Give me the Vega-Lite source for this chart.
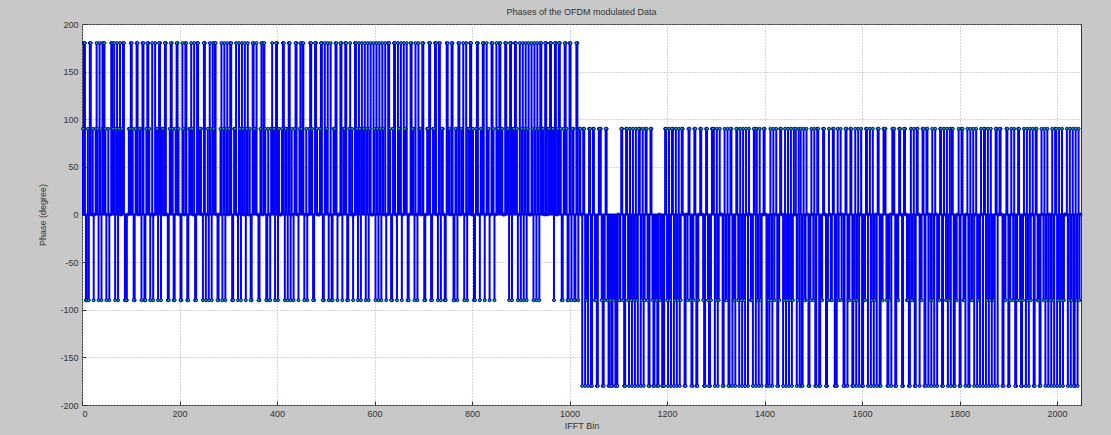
{
"$schema": "https://vega.github.io/schema/vega-lite/v6.json",
"width": 999, "height": 381,
"autosize": {"type": "none"},
"padding": {"left": 82, "top": 24, "right": 30, "bottom": 30},
"background": "#c8c8c8",
"title": {"text": "Phases of the OFDM modulated Data", "fontSize": 9, "fontWeight": "normal", "font": "Liberation Sans", "color": "#333333", "offset": 3},
"config": {
  "view": {"fill": "#ffffff", "stroke": "#333333", "strokeWidth": 1},
  "axis": {"labelFont": "Liberation Sans", "labelFontSize": 9, "labelColor": "#333333", "titleFont": "Liberation Sans", "titleFontSize": 9, "titleFontWeight": "normal", "titleColor": "#333333", "gridColor": "#a8a8a8", "gridDash": [1, 2], "gridOpacity": 1, "domain": false, "tickColor": "#333333", "tickSize": -4}
},
"data": {"values": [
{"bin":4,"phase":180},{"bin":8,"phase":-90},{"bin":12,"phase":90},{"bin":16,"phase":180},{"bin":20,"phase":0},{"bin":24,"phase":-90},{"bin":28,"phase":90},{"bin":32,"phase":90},{"bin":36,"phase":180},{"bin":40,"phase":-90},{"bin":44,"phase":180},{"bin":48,"phase":90},{"bin":52,"phase":0},{"bin":56,"phase":-90},{"bin":60,"phase":180},{"bin":64,"phase":90},
{"bin":68,"phase":-90},{"bin":72,"phase":180},{"bin":76,"phase":90},{"bin":80,"phase":0},{"bin":84,"phase":180},{"bin":88,"phase":-90},{"bin":92,"phase":-90},{"bin":96,"phase":90},{"bin":100,"phase":180},{"bin":104,"phase":90},{"bin":108,"phase":-90},{"bin":112,"phase":180},{"bin":116,"phase":0},{"bin":120,"phase":90},{"bin":124,"phase":180},{"bin":128,"phase":-90},
{"bin":132,"phase":90},{"bin":136,"phase":180},{"bin":140,"phase":-90},{"bin":144,"phase":180},{"bin":148,"phase":0},{"bin":152,"phase":90},{"bin":156,"phase":-90},{"bin":160,"phase":180},{"bin":164,"phase":90},{"bin":168,"phase":0},{"bin":172,"phase":180},{"bin":176,"phase":-90},{"bin":180,"phase":90},{"bin":184,"phase":180},{"bin":188,"phase":-90},{"bin":192,"phase":90},
{"bin":196,"phase":180},{"bin":200,"phase":0},{"bin":204,"phase":-90},{"bin":208,"phase":90},{"bin":212,"phase":180},{"bin":216,"phase":-90},{"bin":220,"phase":90},{"bin":224,"phase":180},{"bin":228,"phase":0},{"bin":232,"phase":-90},{"bin":236,"phase":180},{"bin":240,"phase":90},{"bin":244,"phase":90},{"bin":248,"phase":-90},{"bin":252,"phase":180},{"bin":256,"phase":0},
{"bin":260,"phase":-90},{"bin":264,"phase":90},{"bin":268,"phase":180},{"bin":272,"phase":180},{"bin":276,"phase":0},{"bin":280,"phase":-90},{"bin":284,"phase":90},{"bin":288,"phase":-90},{"bin":292,"phase":180},{"bin":296,"phase":90},{"bin":300,"phase":0},{"bin":304,"phase":180},{"bin":308,"phase":-90},{"bin":312,"phase":90},{"bin":316,"phase":180},{"bin":320,"phase":-90},
{"bin":324,"phase":90},{"bin":328,"phase":180},{"bin":332,"phase":0},{"bin":336,"phase":-90},{"bin":340,"phase":180},{"bin":344,"phase":90},{"bin":348,"phase":-90},{"bin":352,"phase":180},{"bin":356,"phase":90},{"bin":360,"phase":0},{"bin":364,"phase":-90},{"bin":368,"phase":180},{"bin":372,"phase":180},{"bin":376,"phase":90},{"bin":380,"phase":-90},{"bin":384,"phase":0},
{"bin":388,"phase":90},{"bin":392,"phase":90},{"bin":396,"phase":-90},{"bin":400,"phase":180},{"bin":404,"phase":90},{"bin":408,"phase":0},{"bin":412,"phase":180},{"bin":416,"phase":-90},{"bin":420,"phase":90},{"bin":424,"phase":180},{"bin":428,"phase":-90},{"bin":432,"phase":0},{"bin":436,"phase":90},{"bin":440,"phase":180},{"bin":444,"phase":-90},{"bin":448,"phase":180},
{"bin":452,"phase":180},{"bin":456,"phase":-90},{"bin":460,"phase":90},{"bin":464,"phase":0},{"bin":468,"phase":180},{"bin":472,"phase":90},{"bin":476,"phase":-90},{"bin":480,"phase":180},{"bin":484,"phase":0},{"bin":488,"phase":90},{"bin":492,"phase":180},{"bin":496,"phase":-90},{"bin":500,"phase":90},{"bin":504,"phase":180},{"bin":508,"phase":0},{"bin":512,"phase":-90},
{"bin":516,"phase":90},{"bin":520,"phase":180},{"bin":524,"phase":-90},{"bin":528,"phase":0},{"bin":532,"phase":180},{"bin":536,"phase":90},{"bin":540,"phase":180},{"bin":544,"phase":-90},{"bin":548,"phase":90},{"bin":552,"phase":0},{"bin":556,"phase":-90},{"bin":560,"phase":180},{"bin":564,"phase":90},{"bin":568,"phase":180},{"bin":572,"phase":-90},{"bin":576,"phase":90},
{"bin":580,"phase":180},{"bin":584,"phase":90},{"bin":588,"phase":-90},{"bin":592,"phase":180},{"bin":596,"phase":0},{"bin":600,"phase":90},{"bin":604,"phase":180},{"bin":608,"phase":-90},{"bin":612,"phase":90},{"bin":616,"phase":180},{"bin":620,"phase":0},{"bin":624,"phase":-90},{"bin":628,"phase":180},{"bin":632,"phase":90},{"bin":636,"phase":-90},{"bin":640,"phase":180},
{"bin":644,"phase":0},{"bin":648,"phase":180},{"bin":652,"phase":90},{"bin":656,"phase":-90},{"bin":660,"phase":180},{"bin":664,"phase":90},{"bin":668,"phase":-90},{"bin":672,"phase":0},{"bin":676,"phase":180},{"bin":680,"phase":90},{"bin":684,"phase":180},{"bin":688,"phase":-90},{"bin":692,"phase":90},{"bin":696,"phase":0},{"bin":700,"phase":180},{"bin":704,"phase":-90},
{"bin":708,"phase":90},{"bin":712,"phase":180},{"bin":716,"phase":-90},{"bin":720,"phase":90},{"bin":724,"phase":180},{"bin":728,"phase":0},{"bin":732,"phase":180},{"bin":736,"phase":-90},{"bin":740,"phase":90},{"bin":744,"phase":-90},{"bin":748,"phase":180},{"bin":752,"phase":90},{"bin":756,"phase":0},{"bin":760,"phase":180},{"bin":764,"phase":-90},{"bin":768,"phase":90},
{"bin":772,"phase":180},{"bin":776,"phase":0},{"bin":780,"phase":90},{"bin":784,"phase":-90},{"bin":788,"phase":180},{"bin":792,"phase":90},{"bin":796,"phase":180},{"bin":800,"phase":0},{"bin":804,"phase":-90},{"bin":808,"phase":90},{"bin":812,"phase":180},{"bin":816,"phase":-90},{"bin":820,"phase":90},{"bin":824,"phase":180},{"bin":828,"phase":0},{"bin":832,"phase":90},
{"bin":836,"phase":-90},{"bin":840,"phase":180},{"bin":844,"phase":90},{"bin":848,"phase":0},{"bin":852,"phase":90},{"bin":856,"phase":180},{"bin":860,"phase":90},{"bin":864,"phase":0},{"bin":868,"phase":180},{"bin":872,"phase":90},{"bin":876,"phase":-90},{"bin":880,"phase":180},{"bin":884,"phase":90},{"bin":888,"phase":180},{"bin":892,"phase":90},{"bin":896,"phase":0},
{"bin":900,"phase":-90},{"bin":904,"phase":180},{"bin":908,"phase":90},{"bin":912,"phase":-90},{"bin":916,"phase":180},{"bin":920,"phase":0},{"bin":924,"phase":90},{"bin":928,"phase":180},{"bin":932,"phase":-90},{"bin":936,"phase":90},{"bin":940,"phase":180},{"bin":944,"phase":90},{"bin":948,"phase":0},{"bin":952,"phase":180},{"bin":956,"phase":90},{"bin":960,"phase":180},
{"bin":964,"phase":90},{"bin":968,"phase":-90},{"bin":972,"phase":180},{"bin":976,"phase":90},{"bin":980,"phase":180},{"bin":984,"phase":-90},{"bin":988,"phase":90},{"bin":992,"phase":180},{"bin":996,"phase":-90},{"bin":1000,"phase":180},{"bin":1004,"phase":-90},{"bin":1008,"phase":90},{"bin":1012,"phase":-90},{"bin":1016,"phase":180},{"bin":1020,"phase":90},{"bin":1024,"phase":0},
{"bin":1028,"phase":90},{"bin":1032,"phase":-180},{"bin":1036,"phase":-90},{"bin":1040,"phase":90},{"bin":1044,"phase":-180},{"bin":1048,"phase":90},{"bin":1052,"phase":-90},{"bin":1056,"phase":-180},{"bin":1060,"phase":90},{"bin":1064,"phase":90},{"bin":1068,"phase":-180},{"bin":1072,"phase":-90},{"bin":1076,"phase":90},{"bin":1080,"phase":-180},{"bin":1084,"phase":-90},{"bin":1088,"phase":-180},
{"bin":1092,"phase":-90},{"bin":1096,"phase":-180},{"bin":1100,"phase":0},{"bin":1104,"phase":-90},{"bin":1108,"phase":90},{"bin":1112,"phase":-180},{"bin":1116,"phase":90},{"bin":1120,"phase":-90},{"bin":1124,"phase":90},{"bin":1128,"phase":-180},{"bin":1132,"phase":-90},{"bin":1136,"phase":90},{"bin":1140,"phase":-180},{"bin":1144,"phase":90},{"bin":1148,"phase":-90},{"bin":1152,"phase":-180},
{"bin":1156,"phase":90},{"bin":1160,"phase":-90},{"bin":1164,"phase":-180},{"bin":1168,"phase":90},{"bin":1172,"phase":-180},{"bin":1176,"phase":-90},{"bin":1180,"phase":-180},{"bin":1184,"phase":0},{"bin":1188,"phase":-90},{"bin":1192,"phase":-180},{"bin":1196,"phase":90},{"bin":1200,"phase":-90},{"bin":1204,"phase":90},{"bin":1208,"phase":-180},{"bin":1212,"phase":90},{"bin":1216,"phase":-90},
{"bin":1220,"phase":-180},{"bin":1224,"phase":90},{"bin":1228,"phase":-90},{"bin":1232,"phase":90},{"bin":1236,"phase":-180},{"bin":1240,"phase":0},{"bin":1244,"phase":90},{"bin":1248,"phase":-90},{"bin":1252,"phase":-180},{"bin":1256,"phase":90},{"bin":1260,"phase":-180},{"bin":1264,"phase":-90},{"bin":1268,"phase":90},{"bin":1272,"phase":0},{"bin":1276,"phase":-180},{"bin":1280,"phase":90},
{"bin":1284,"phase":-90},{"bin":1288,"phase":-180},{"bin":1292,"phase":90},{"bin":1296,"phase":90},{"bin":1300,"phase":-90},{"bin":1304,"phase":-180},{"bin":1308,"phase":90},{"bin":1312,"phase":0},{"bin":1316,"phase":-180},{"bin":1320,"phase":-90},{"bin":1324,"phase":90},{"bin":1328,"phase":-180},{"bin":1332,"phase":90},{"bin":1336,"phase":-90},{"bin":1340,"phase":-180},{"bin":1344,"phase":90},
{"bin":1348,"phase":-180},{"bin":1352,"phase":-90},{"bin":1356,"phase":90},{"bin":1360,"phase":-180},{"bin":1364,"phase":0},{"bin":1368,"phase":90},{"bin":1372,"phase":-90},{"bin":1376,"phase":-180},{"bin":1380,"phase":90},{"bin":1384,"phase":90},{"bin":1388,"phase":-180},{"bin":1392,"phase":-90},{"bin":1396,"phase":0},{"bin":1400,"phase":90},{"bin":1404,"phase":-180},{"bin":1408,"phase":-90},
{"bin":1412,"phase":90},{"bin":1416,"phase":-180},{"bin":1420,"phase":-90},{"bin":1424,"phase":90},{"bin":1428,"phase":-180},{"bin":1432,"phase":90},{"bin":1436,"phase":0},{"bin":1440,"phase":-90},{"bin":1444,"phase":-180},{"bin":1448,"phase":90},{"bin":1452,"phase":-90},{"bin":1456,"phase":-180},{"bin":1460,"phase":90},{"bin":1464,"phase":90},{"bin":1468,"phase":-90},{"bin":1472,"phase":-180},
{"bin":1476,"phase":-180},{"bin":1480,"phase":90},{"bin":1484,"phase":-90},{"bin":1488,"phase":0},{"bin":1492,"phase":-180},{"bin":1496,"phase":90},{"bin":1500,"phase":-90},{"bin":1504,"phase":-180},{"bin":1508,"phase":90},{"bin":1512,"phase":-180},{"bin":1516,"phase":-90},{"bin":1520,"phase":90},{"bin":1524,"phase":0},{"bin":1528,"phase":-180},{"bin":1532,"phase":90},{"bin":1536,"phase":-90},
{"bin":1540,"phase":90},{"bin":1544,"phase":-180},{"bin":1548,"phase":-180},{"bin":1552,"phase":-90},{"bin":1556,"phase":90},{"bin":1560,"phase":0},{"bin":1564,"phase":-180},{"bin":1568,"phase":90},{"bin":1572,"phase":-90},{"bin":1576,"phase":90},{"bin":1580,"phase":-180},{"bin":1584,"phase":-90},{"bin":1588,"phase":-180},{"bin":1592,"phase":90},{"bin":1596,"phase":0},{"bin":1600,"phase":-180},
{"bin":1604,"phase":-90},{"bin":1608,"phase":90},{"bin":1612,"phase":-180},{"bin":1616,"phase":90},{"bin":1620,"phase":-90},{"bin":1624,"phase":-180},{"bin":1628,"phase":0},{"bin":1632,"phase":90},{"bin":1636,"phase":-180},{"bin":1640,"phase":-90},{"bin":1644,"phase":90},{"bin":1648,"phase":90},{"bin":1652,"phase":-180},{"bin":1656,"phase":-90},{"bin":1660,"phase":-180},{"bin":1664,"phase":90},
{"bin":1668,"phase":-180},{"bin":1672,"phase":-90},{"bin":1676,"phase":90},{"bin":1680,"phase":0},{"bin":1684,"phase":-180},{"bin":1688,"phase":90},{"bin":1692,"phase":-90},{"bin":1696,"phase":-180},{"bin":1700,"phase":90},{"bin":1704,"phase":-90},{"bin":1708,"phase":-180},{"bin":1712,"phase":90},{"bin":1716,"phase":0},{"bin":1720,"phase":-90},{"bin":1724,"phase":90},{"bin":1728,"phase":-180},
{"bin":1732,"phase":90},{"bin":1736,"phase":-180},{"bin":1740,"phase":-90},{"bin":1744,"phase":90},{"bin":1748,"phase":-180},{"bin":1752,"phase":0},{"bin":1756,"phase":-90},{"bin":1760,"phase":90},{"bin":1764,"phase":-180},{"bin":1768,"phase":90},{"bin":1772,"phase":-90},{"bin":1776,"phase":-180},{"bin":1780,"phase":90},{"bin":1784,"phase":90},{"bin":1788,"phase":-180},{"bin":1792,"phase":-90},
{"bin":1796,"phase":0},{"bin":1800,"phase":-180},{"bin":1804,"phase":90},{"bin":1808,"phase":-90},{"bin":1812,"phase":-180},{"bin":1816,"phase":90},{"bin":1820,"phase":-180},{"bin":1824,"phase":-90},{"bin":1828,"phase":90},{"bin":1832,"phase":0},{"bin":1836,"phase":-180},{"bin":1840,"phase":-90},{"bin":1844,"phase":90},{"bin":1848,"phase":-180},{"bin":1852,"phase":90},{"bin":1856,"phase":-90},
{"bin":1860,"phase":-180},{"bin":1864,"phase":90},{"bin":1868,"phase":-90},{"bin":1872,"phase":-180},{"bin":1876,"phase":90},{"bin":1880,"phase":0},{"bin":1884,"phase":90},{"bin":1888,"phase":-180},{"bin":1892,"phase":-90},{"bin":1896,"phase":90},{"bin":1900,"phase":-180},{"bin":1904,"phase":-90},{"bin":1908,"phase":0},{"bin":1912,"phase":90},{"bin":1916,"phase":-180},{"bin":1920,"phase":90},
{"bin":1924,"phase":-90},{"bin":1928,"phase":-180},{"bin":1932,"phase":90},{"bin":1936,"phase":-180},{"bin":1940,"phase":-90},{"bin":1944,"phase":90},{"bin":1948,"phase":0},{"bin":1952,"phase":-180},{"bin":1956,"phase":90},{"bin":1960,"phase":-90},{"bin":1964,"phase":-180},{"bin":1968,"phase":90},{"bin":1972,"phase":-90},{"bin":1976,"phase":-180},{"bin":1980,"phase":90},{"bin":1984,"phase":0},
{"bin":1988,"phase":-180},{"bin":1992,"phase":-90},{"bin":1996,"phase":90},{"bin":2000,"phase":-180},{"bin":2004,"phase":90},{"bin":2008,"phase":-90},{"bin":2012,"phase":-180},{"bin":2016,"phase":0},{"bin":2020,"phase":90},{"bin":2024,"phase":-90},{"bin":2028,"phase":-180},{"bin":2032,"phase":90},{"bin":2036,"phase":-180},{"bin":2040,"phase":-90},{"bin":2044,"phase":90},{"bin":2048,"phase":0},
{"bin":2,"phase":90},{"bin":6,"phase":180},{"bin":10,"phase":-90},{"bin":14,"phase":-90},{"bin":18,"phase":180},{"bin":22,"phase":90},{"bin":26,"phase":0},{"bin":30,"phase":180},{"bin":34,"phase":-90},{"bin":38,"phase":90},{"bin":42,"phase":180},{"bin":46,"phase":180},{"bin":50,"phase":-90},{"bin":54,"phase":90},{"bin":58,"phase":0},{"bin":62,"phase":180},
{"bin":66,"phase":180},{"bin":70,"phase":90},{"bin":74,"phase":-90},{"bin":78,"phase":180},{"bin":82,"phase":90},{"bin":86,"phase":180},{"bin":90,"phase":-90},{"bin":94,"phase":0},{"bin":98,"phase":90},{"bin":102,"phase":180},{"bin":106,"phase":-90},{"bin":110,"phase":90},{"bin":114,"phase":180},{"bin":118,"phase":90},{"bin":122,"phase":-90},{"bin":126,"phase":180},
{"bin":130,"phase":-90},{"bin":134,"phase":180},{"bin":138,"phase":90},{"bin":142,"phase":0},{"bin":146,"phase":-90},{"bin":150,"phase":180},{"bin":154,"phase":90},{"bin":158,"phase":180},{"bin":162,"phase":-90},{"bin":166,"phase":90},{"bin":170,"phase":180},{"bin":174,"phase":0},{"bin":178,"phase":-90},{"bin":182,"phase":180},{"bin":186,"phase":90},{"bin":190,"phase":-90},
{"bin":194,"phase":180},{"bin":198,"phase":90},{"bin":202,"phase":-90},{"bin":206,"phase":180},{"bin":210,"phase":0},{"bin":214,"phase":180},{"bin":218,"phase":-90},{"bin":222,"phase":90},{"bin":226,"phase":90},{"bin":230,"phase":180},{"bin":234,"phase":-90},{"bin":238,"phase":180},{"bin":242,"phase":90},{"bin":246,"phase":0},{"bin":250,"phase":180},{"bin":254,"phase":-90},
{"bin":258,"phase":90},{"bin":262,"phase":180},{"bin":266,"phase":-90},{"bin":270,"phase":90},{"bin":274,"phase":180},{"bin":278,"phase":-90},{"bin":282,"phase":0},{"bin":286,"phase":180},{"bin":290,"phase":90},{"bin":294,"phase":-90},{"bin":298,"phase":180},{"bin":302,"phase":90},{"bin":306,"phase":180},{"bin":310,"phase":-90},{"bin":314,"phase":90},{"bin":318,"phase":0},
{"bin":322,"phase":180},{"bin":326,"phase":-90},{"bin":330,"phase":90},{"bin":334,"phase":180},{"bin":338,"phase":90},{"bin":342,"phase":0},{"bin":346,"phase":-90},{"bin":350,"phase":180},{"bin":354,"phase":90},{"bin":358,"phase":180},{"bin":362,"phase":-90},{"bin":366,"phase":90},{"bin":370,"phase":0},{"bin":374,"phase":180},{"bin":378,"phase":-90},{"bin":382,"phase":90},
{"bin":386,"phase":-90},{"bin":390,"phase":180},{"bin":394,"phase":90},{"bin":398,"phase":180},{"bin":402,"phase":-90},{"bin":406,"phase":0},{"bin":410,"phase":90},{"bin":414,"phase":180},{"bin":418,"phase":90},{"bin":422,"phase":-90},{"bin":426,"phase":180},{"bin":430,"phase":90},{"bin":434,"phase":-90},{"bin":438,"phase":180},{"bin":442,"phase":0},{"bin":446,"phase":90},
{"bin":450,"phase":90},{"bin":454,"phase":180},{"bin":458,"phase":0},{"bin":462,"phase":-90},{"bin":466,"phase":90},{"bin":470,"phase":180},{"bin":474,"phase":-90},{"bin":478,"phase":180},{"bin":482,"phase":90},{"bin":486,"phase":0},{"bin":490,"phase":180},{"bin":494,"phase":-90},{"bin":498,"phase":180},{"bin":502,"phase":90},{"bin":506,"phase":-90},{"bin":510,"phase":180},
{"bin":514,"phase":-90},{"bin":518,"phase":90},{"bin":522,"phase":180},{"bin":526,"phase":0},{"bin":530,"phase":180},{"bin":534,"phase":-90},{"bin":538,"phase":90},{"bin":542,"phase":180},{"bin":546,"phase":-90},{"bin":550,"phase":180},{"bin":554,"phase":90},{"bin":558,"phase":0},{"bin":562,"phase":180},{"bin":566,"phase":-90},{"bin":570,"phase":90},{"bin":574,"phase":180},
{"bin":578,"phase":90},{"bin":582,"phase":-90},{"bin":586,"phase":180},{"bin":590,"phase":90},{"bin":594,"phase":0},{"bin":598,"phase":180},{"bin":602,"phase":-90},{"bin":606,"phase":90},{"bin":610,"phase":180},{"bin":614,"phase":-90},{"bin":618,"phase":90},{"bin":622,"phase":180},{"bin":626,"phase":0},{"bin":630,"phase":180},{"bin":634,"phase":-90},{"bin":638,"phase":90},
{"bin":642,"phase":180},{"bin":646,"phase":-90},{"bin":650,"phase":90},{"bin":654,"phase":180},{"bin":658,"phase":0},{"bin":662,"phase":90},{"bin":666,"phase":180},{"bin":670,"phase":-90},{"bin":674,"phase":180},{"bin":678,"phase":90},{"bin":682,"phase":-90},{"bin":686,"phase":0},{"bin":690,"phase":180},{"bin":694,"phase":90},{"bin":698,"phase":180},{"bin":702,"phase":-90},
{"bin":706,"phase":0},{"bin":710,"phase":90},{"bin":714,"phase":180},{"bin":718,"phase":-90},{"bin":722,"phase":90},{"bin":726,"phase":180},{"bin":730,"phase":-90},{"bin":734,"phase":180},{"bin":738,"phase":90},{"bin":742,"phase":0},{"bin":746,"phase":-90},{"bin":750,"phase":180},{"bin":754,"phase":90},{"bin":758,"phase":180},{"bin":762,"phase":-90},{"bin":766,"phase":90},
{"bin":770,"phase":-90},{"bin":774,"phase":180},{"bin":778,"phase":90},{"bin":782,"phase":180},{"bin":786,"phase":0},{"bin":790,"phase":-90},{"bin":794,"phase":90},{"bin":798,"phase":180},{"bin":802,"phase":90},{"bin":806,"phase":-90},{"bin":810,"phase":180},{"bin":814,"phase":0},{"bin":818,"phase":90},{"bin":822,"phase":180},{"bin":826,"phase":-90},{"bin":830,"phase":180},
{"bin":834,"phase":90},{"bin":838,"phase":0},{"bin":842,"phase":180},{"bin":846,"phase":-90},{"bin":850,"phase":180},{"bin":854,"phase":90},{"bin":858,"phase":180},{"bin":862,"phase":90},{"bin":866,"phase":0},{"bin":870,"phase":180},{"bin":874,"phase":90},{"bin":878,"phase":180},{"bin":882,"phase":-90},{"bin":886,"phase":90},{"bin":890,"phase":180},{"bin":894,"phase":-90},
{"bin":898,"phase":180},{"bin":902,"phase":90},{"bin":906,"phase":-90},{"bin":910,"phase":180},{"bin":914,"phase":90},{"bin":918,"phase":0},{"bin":922,"phase":180},{"bin":926,"phase":-90},{"bin":930,"phase":90},{"bin":934,"phase":180},{"bin":938,"phase":-90},{"bin":942,"phase":180},{"bin":946,"phase":90},{"bin":950,"phase":180},{"bin":954,"phase":0},{"bin":958,"phase":90},
{"bin":962,"phase":180},{"bin":966,"phase":90},{"bin":970,"phase":180},{"bin":974,"phase":0},{"bin":978,"phase":180},{"bin":982,"phase":90},{"bin":986,"phase":-90},{"bin":990,"phase":180},{"bin":994,"phase":90},{"bin":998,"phase":-90},{"bin":1002,"phase":180},{"bin":1006,"phase":90},{"bin":1010,"phase":-90},{"bin":1014,"phase":180},{"bin":1018,"phase":-90},{"bin":1022,"phase":90},
{"bin":1026,"phase":-180},{"bin":1030,"phase":90},{"bin":1034,"phase":-90},{"bin":1038,"phase":-180},{"bin":1042,"phase":90},{"bin":1046,"phase":-180},{"bin":1050,"phase":90},{"bin":1054,"phase":-90},{"bin":1058,"phase":-180},{"bin":1062,"phase":90},{"bin":1066,"phase":-90},{"bin":1070,"phase":-180},{"bin":1074,"phase":90},{"bin":1078,"phase":-90},{"bin":1082,"phase":-180},{"bin":1086,"phase":-180},
{"bin":1090,"phase":-90},{"bin":1094,"phase":-180},{"bin":1098,"phase":-180},{"bin":1102,"phase":-90},{"bin":1106,"phase":90},{"bin":1110,"phase":-90},{"bin":1114,"phase":-180},{"bin":1118,"phase":90},{"bin":1122,"phase":-180},{"bin":1126,"phase":-90},{"bin":1130,"phase":90},{"bin":1134,"phase":-180},{"bin":1138,"phase":-90},{"bin":1142,"phase":90},{"bin":1146,"phase":-180},{"bin":1150,"phase":90},
{"bin":1154,"phase":-90},{"bin":1158,"phase":90},{"bin":1162,"phase":-180},{"bin":1166,"phase":90},{"bin":1170,"phase":-90},{"bin":1174,"phase":-180},{"bin":1178,"phase":-90},{"bin":1182,"phase":-180},{"bin":1186,"phase":-90},{"bin":1190,"phase":-180},{"bin":1194,"phase":-180},{"bin":1198,"phase":90},{"bin":1202,"phase":-180},{"bin":1206,"phase":-90},{"bin":1210,"phase":90},{"bin":1214,"phase":-180},
{"bin":1218,"phase":90},{"bin":1222,"phase":-90},{"bin":1226,"phase":-180},{"bin":1230,"phase":90},{"bin":1234,"phase":0},{"bin":1238,"phase":-180},{"bin":1242,"phase":-90},{"bin":1246,"phase":90},{"bin":1250,"phase":-180},{"bin":1254,"phase":-90},{"bin":1258,"phase":90},{"bin":1262,"phase":-180},{"bin":1266,"phase":0},{"bin":1270,"phase":90},{"bin":1274,"phase":-90},{"bin":1278,"phase":-180},
{"bin":1282,"phase":90},{"bin":1286,"phase":-180},{"bin":1290,"phase":-90},{"bin":1294,"phase":90},{"bin":1298,"phase":-180},{"bin":1302,"phase":90},{"bin":1306,"phase":-90},{"bin":1310,"phase":0},{"bin":1314,"phase":-180},{"bin":1318,"phase":90},{"bin":1322,"phase":-90},{"bin":1326,"phase":-180},{"bin":1330,"phase":90},{"bin":1334,"phase":-180},{"bin":1338,"phase":-90},{"bin":1342,"phase":90},
{"bin":1346,"phase":-90},{"bin":1350,"phase":90},{"bin":1354,"phase":-180},{"bin":1358,"phase":-90},{"bin":1362,"phase":90},{"bin":1366,"phase":-180},{"bin":1370,"phase":0},{"bin":1374,"phase":-90},{"bin":1378,"phase":90},{"bin":1382,"phase":-180},{"bin":1386,"phase":-90},{"bin":1390,"phase":90},{"bin":1394,"phase":-180},{"bin":1398,"phase":90},{"bin":1402,"phase":0},{"bin":1406,"phase":-180},
{"bin":1410,"phase":-180},{"bin":1414,"phase":-90},{"bin":1418,"phase":90},{"bin":1422,"phase":0},{"bin":1426,"phase":-180},{"bin":1430,"phase":-90},{"bin":1434,"phase":90},{"bin":1438,"phase":-180},{"bin":1442,"phase":90},{"bin":1446,"phase":-90},{"bin":1450,"phase":-180},{"bin":1454,"phase":90},{"bin":1458,"phase":-90},{"bin":1462,"phase":0},{"bin":1466,"phase":-180},{"bin":1470,"phase":90},
{"bin":1474,"phase":90},{"bin":1478,"phase":-180},{"bin":1482,"phase":-90},{"bin":1486,"phase":90},{"bin":1490,"phase":-180},{"bin":1494,"phase":-90},{"bin":1498,"phase":0},{"bin":1502,"phase":90},{"bin":1506,"phase":-180},{"bin":1510,"phase":90},{"bin":1514,"phase":-180},{"bin":1518,"phase":-90},{"bin":1522,"phase":90},{"bin":1526,"phase":-180},{"bin":1530,"phase":-90},{"bin":1534,"phase":0},
{"bin":1538,"phase":-90},{"bin":1542,"phase":90},{"bin":1546,"phase":-180},{"bin":1550,"phase":90},{"bin":1554,"phase":0},{"bin":1558,"phase":-90},{"bin":1562,"phase":-180},{"bin":1566,"phase":90},{"bin":1570,"phase":-180},{"bin":1574,"phase":-90},{"bin":1578,"phase":90},{"bin":1582,"phase":-180},{"bin":1586,"phase":90},{"bin":1590,"phase":-90},{"bin":1594,"phase":-180},{"bin":1598,"phase":90},
{"bin":1602,"phase":-180},{"bin":1606,"phase":-90},{"bin":1610,"phase":90},{"bin":1614,"phase":0},{"bin":1618,"phase":-180},{"bin":1622,"phase":90},{"bin":1626,"phase":-90},{"bin":1630,"phase":-180},{"bin":1634,"phase":90},{"bin":1638,"phase":-180},{"bin":1642,"phase":-90},{"bin":1646,"phase":90},{"bin":1650,"phase":-90},{"bin":1654,"phase":-180},{"bin":1658,"phase":0},{"bin":1662,"phase":90},
{"bin":1666,"phase":90},{"bin":1670,"phase":-180},{"bin":1674,"phase":-90},{"bin":1678,"phase":90},{"bin":1682,"phase":-180},{"bin":1686,"phase":90},{"bin":1690,"phase":0},{"bin":1694,"phase":-90},{"bin":1698,"phase":-180},{"bin":1702,"phase":-90},{"bin":1706,"phase":90},{"bin":1710,"phase":-180},{"bin":1714,"phase":90},{"bin":1718,"phase":-180},{"bin":1722,"phase":-90},{"bin":1726,"phase":90},
{"bin":1730,"phase":-180},{"bin":1734,"phase":90},{"bin":1738,"phase":0},{"bin":1742,"phase":-180},{"bin":1746,"phase":-90},{"bin":1750,"phase":90},{"bin":1754,"phase":-180},{"bin":1758,"phase":-90},{"bin":1762,"phase":90},{"bin":1766,"phase":-180},{"bin":1770,"phase":0},{"bin":1774,"phase":90},{"bin":1778,"phase":-90},{"bin":1782,"phase":-180},{"bin":1786,"phase":90},{"bin":1790,"phase":-180},
{"bin":1794,"phase":-90},{"bin":1798,"phase":90},{"bin":1802,"phase":-180},{"bin":1806,"phase":90},{"bin":1810,"phase":-90},{"bin":1814,"phase":0},{"bin":1818,"phase":-180},{"bin":1822,"phase":90},{"bin":1826,"phase":-90},{"bin":1830,"phase":-180},{"bin":1834,"phase":90},{"bin":1838,"phase":-90},{"bin":1842,"phase":-180},{"bin":1846,"phase":0},{"bin":1850,"phase":90},{"bin":1854,"phase":-180},
{"bin":1858,"phase":90},{"bin":1862,"phase":-90},{"bin":1866,"phase":-180},{"bin":1870,"phase":-90},{"bin":1874,"phase":90},{"bin":1878,"phase":-180},{"bin":1882,"phase":90},{"bin":1886,"phase":0},{"bin":1890,"phase":-180},{"bin":1894,"phase":-90},{"bin":1898,"phase":90},{"bin":1902,"phase":-180},{"bin":1906,"phase":90},{"bin":1910,"phase":-90},{"bin":1914,"phase":-180},{"bin":1918,"phase":-90},
{"bin":1922,"phase":90},{"bin":1926,"phase":-180},{"bin":1930,"phase":-90},{"bin":1934,"phase":0},{"bin":1938,"phase":90},{"bin":1942,"phase":-180},{"bin":1946,"phase":-90},{"bin":1950,"phase":90},{"bin":1954,"phase":-180},{"bin":1958,"phase":90},{"bin":1962,"phase":-90},{"bin":1966,"phase":-180},{"bin":1970,"phase":0},{"bin":1974,"phase":90},{"bin":1978,"phase":-90},{"bin":1982,"phase":-180},
{"bin":1986,"phase":-90},{"bin":1990,"phase":90},{"bin":1994,"phase":-180},{"bin":1998,"phase":90},{"bin":2002,"phase":-90},{"bin":2006,"phase":-180},{"bin":2010,"phase":90},{"bin":2014,"phase":-90},{"bin":2018,"phase":0},{"bin":2022,"phase":-180},{"bin":2026,"phase":90},{"bin":2030,"phase":-90},{"bin":2034,"phase":-180},{"bin":2038,"phase":90},{"bin":2042,"phase":-180},{"bin":2046,"phase":-90}
]},
"layer": [
  {"mark": {"type": "rule", "color": "#0000ff", "strokeWidth": 2},
   "encoding": {
     "x": {"field": "bin", "type": "quantitative", "scale": {"domain": [0, 2049], "nice": false, "zero": false},
           "axis": {"values": [0, 200, 400, 600, 800, 1000, 1200, 1400, 1600, 1800, 2000], "title": "IFFT Bin", "labelPadding": 8, "titlePadding": 3, "grid": true, "labelExpr": "'' + datum.value"}},
     "y": {"field": "phase", "type": "quantitative", "scale": {"domain": [-200, 200], "nice": false},
           "axis": {"values": [-200, -150, -100, -50, 0, 50, 100, 150, 200], "title": "Phase (degree)", "labelPadding": 8, "titlePadding": 12, "grid": true, "labelExpr": "'' + datum.value"}},
     "y2": {"datum": 0}
   }},
  {"mark": {"type": "point", "shape": "circle", "filled": false, "stroke": "#0000cc", "fill": "#22aa55", "fillOpacity": 1, "size": 9, "strokeWidth": 1},
   "encoding": {
     "x": {"field": "bin", "type": "quantitative"},
     "y": {"field": "phase", "type": "quantitative"}
   }},
  {"data": {"values": [{"level": 0}]},
   "mark": {"type": "rule", "color": "#0000cc", "strokeWidth": 2},
   "encoding": {"y": {"field": "level", "type": "quantitative"}}}
]
}
